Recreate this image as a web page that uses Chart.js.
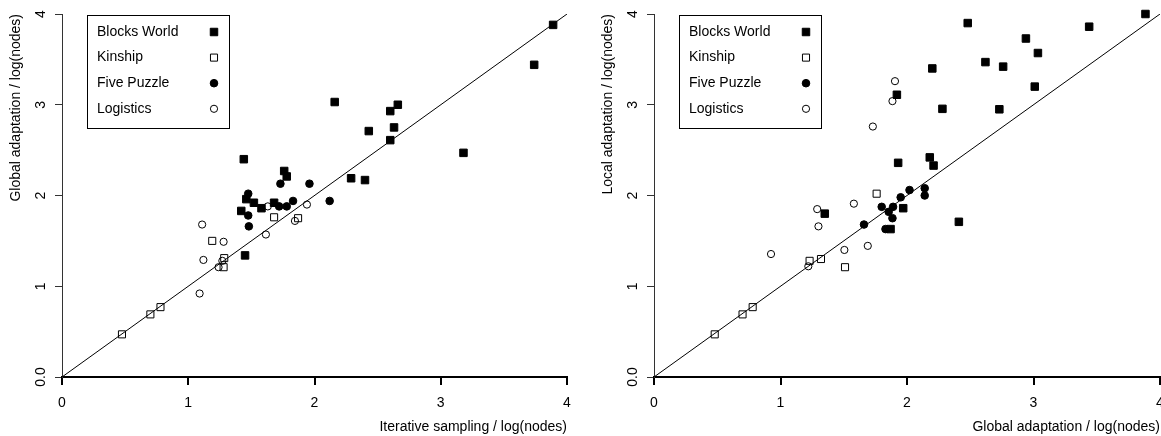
<!DOCTYPE html>
<html>
<head>
<meta charset="utf-8">
<script src="https://cdn.jsdelivr.net/npm/chart.js@4.4.0/dist/chart.umd.min.js"></script>
<style>
  body { margin: 0; background: #fff; }
  #wrap { position: relative; width: 1161px; height: 436px; }
  canvas { position: absolute; top: 0; }
</style>
</head>
<body>
<div id="wrap">
  <canvas id="left" width="590" height="436" style="left:0px"></canvas>
  <canvas id="right" width="569" height="436" style="left:592px"></canvas>
</div>
<script>
// ---- data: [x, y] pairs, log(nodes) ----
const seriesNames = ['Blocks World', 'Kinship', 'Five Puzzle', 'Logistics'];
const xTickLabels = ['0', '1', '2', '3', '4'];
const yTickLabels = ['0.0', '1', '2', '3', '4'];
const tickValues = [0, 1, 2, 3, 4];
const diagonal = [[0, 0], [4, 4]];

// left: iterative sampling (x) vs global adaptation (y)
const leftBlocks = [[3.89, 3.88], [3.74, 3.44], [2.16, 3.03], [2.66, 3.00], [2.60, 2.93], [2.43, 2.71],
  [2.63, 2.75], [2.60, 2.61], [3.18, 2.47], [2.29, 2.19], [2.40, 2.17], [1.76, 2.27], [1.78, 2.21],
  [1.44, 2.40], [1.46, 1.96], [1.52, 1.92], [1.42, 1.83], [1.58, 1.86], [1.68, 1.92], [1.45, 1.34]];
const leftKinship = [[0.475, 0.47], [0.70, 0.69], [0.78, 0.77], [1.19, 1.50], [1.285, 1.31],
  [1.28, 1.21], [1.68, 1.76], [1.87, 1.75]];
const leftFive = [[1.475, 2.02], [1.73, 2.13], [1.96, 2.13], [2.12, 1.94], [1.83, 1.94], [1.78, 1.88],
  [1.72, 1.88], [1.475, 1.78], [1.48, 1.66]];
const leftLogistics = [[1.11, 1.68], [1.12, 1.29], [1.09, 0.92], [1.24, 1.21], [1.27, 1.28], [1.28, 1.49],
  [1.615, 1.57], [1.845, 1.72], [1.63, 1.88], [1.94, 1.90]];

// right: global adaptation (x) vs local adaptation (y)
const rightBlocks = [[3.885, 4.00], [2.48, 3.90], [3.44, 3.86], [2.94, 3.73], [3.035, 3.57], [2.62, 3.47],
  [2.76, 3.42], [2.20, 3.40], [3.01, 3.20], [1.92, 3.11], [2.28, 2.955], [2.73, 2.95], [1.93, 2.36],
  [2.18, 2.42], [2.21, 2.33], [1.97, 1.86], [2.41, 1.71], [1.87, 1.63], [1.35, 1.80]];
const rightKinship = [[0.48, 0.47], [0.70, 0.69], [0.78, 0.77], [1.23, 1.28], [1.32, 1.30],
  [1.51, 1.21], [1.76, 2.02]];
const rightFive = [[1.66, 1.68], [1.80, 1.875], [1.855, 1.82], [1.885, 1.75], [1.89, 1.875], [1.95, 1.98],
  [2.02, 2.06], [2.14, 2.08], [2.14, 2.00], [1.83, 1.63]];
const rightLogistics = [[1.905, 3.26], [1.885, 3.04], [1.73, 2.76], [1.29, 1.85], [1.58, 1.91], [1.30, 1.66],
  [0.925, 1.355], [1.22, 1.22], [1.505, 1.40], [1.69, 1.445]];

const FONT = '"Liberation Sans", Arial, Helvetica, sans-serif';
const markers = [
  { style: 'rect', fill: '#000', r: 5.3 },
  { style: 'rect', fill: 'rgba(0,0,0,0)', r: 5.0 },
  { style: 'circle', fill: '#000', r: 3.8 },
  { style: 'circle', fill: 'rgba(0,0,0,0)', r: 3.6 }
];

function toXY(arr) {
  return arr.map(p => ({ x: p[0], y: p[1] }));
}

function drawMarker(ctx, m, x, y) {
  ctx.beginPath();
  if (m.style === 'rect') {
    const s = m.r * Math.SQRT1_2;
    ctx.rect(x - s, y - s, 2 * s, 2 * s);
  } else {
    ctx.arc(x, y, m.r, 0, Math.PI * 2);
  }
  ctx.fillStyle = m.fill;
  ctx.fill();
  ctx.strokeStyle = '#000';
  ctx.lineWidth = 1;
  ctx.stroke();
}

// rotated y tick labels (R style) and the legend box with symbols on the right
const extras = {
  id: 'extras',
  afterDraw(chart) {
    const ctx = chart.ctx, area = chart.chartArea, ys = chart.scales.y;
    ctx.save();
    ctx.font = '14px ' + FONT;
    ctx.fillStyle = '#000';
    ctx.textAlign = 'center';
    ctx.textBaseline = 'middle';
    yTickLabels.forEach((lab, i) => {
      ctx.save();
      ctx.translate(area.left - 21, ys.getPixelForValue(tickValues[i]));
      ctx.rotate(-Math.PI / 2);
      ctx.fillText(lab, 0, 0);
      ctx.restore();
    });

    const bx = area.left + 25, by = area.top + 1, bw = 142, bh = 113;
    ctx.fillStyle = '#fff';
    ctx.fillRect(bx, by, bw, bh);
    ctx.strokeStyle = '#000';
    ctx.lineWidth = 1;
    ctx.strokeRect(bx + 0.5, by + 0.5, bw, bh);
    ctx.textAlign = 'left';
    seriesNames.forEach((name, i) => {
      const ry = by + 17 + i * 25.6;
      ctx.fillStyle = '#000';
      ctx.fillText(name, bx + 10, ry);
      drawMarker(ctx, markers[i], bx + 127, ry);
    });
    ctx.restore();
  }
};

function makeChart(id, sets, xTitle, yTitle, padRight) {
  const datasets = sets.map((d, i) => ({
    label: seriesNames[i],
    data: toXY(d),
    clip: false,
    pointStyle: markers[i].style,
    pointRadius: markers[i].r,
    pointBackgroundColor: markers[i].fill,
    pointBorderColor: '#000',
    pointBorderWidth: 1
  }));
  datasets.push({
    label: 'y = x',
    data: toXY(diagonal),
    showLine: true,
    borderColor: '#000',
    borderWidth: 1,
    pointRadius: 0
  });

  return new Chart(document.getElementById(id), {
    type: 'scatter',
    data: { datasets: datasets },
    options: {
      responsive: false,
      animation: false,
      events: [],
      layout: { autoPadding: false, padding: { top: 14, right: padRight, left: 0, bottom: 0 } },
      plugins: { legend: { display: false }, tooltip: { enabled: false } },
      scales: {
        x: {
          type: 'linear', min: 0, max: 4,
          afterFit: s => { s.height = 59; s.paddingLeft = 0; s.paddingRight = 0; },
          afterBuildTicks: s => { s.ticks = tickValues.map(v => ({ value: v })); },
          grid: { drawOnChartArea: false, drawTicks: true, tickLength: 8, color: '#000', lineWidth: 2 },
          border: { display: true, color: '#000', width: 2 },
          ticks: {
            padding: 10, color: '#000', maxRotation: 0,
            font: { family: FONT, size: 14 },
            callback: (v, i) => xTickLabels[i]
          },
          title: {
            display: true, text: xTitle, align: 'end', color: '#000',
            font: { family: FONT, size: 14 }, padding: { top: 0, bottom: 0 }
          }
        },
        y: {
          type: 'linear', min: 0, max: 4,
          afterFit: s => { s.width = 62; s.paddingTop = 0; s.paddingBottom = 0; },
          afterBuildTicks: s => { s.ticks = tickValues.map(v => ({ value: v })); },
          grid: { drawOnChartArea: false, drawTicks: true, tickLength: 7, color: '#333', lineWidth: 1 },
          border: { display: true, color: '#333', width: 1 },
          ticks: { display: false },
          title: {
            display: true, text: yTitle, align: 'end', color: '#000',
            font: { family: FONT, size: 14 }, padding: { top: 8, bottom: 0 }
          }
        }
      }
    },
    plugins: [extras]
  });
}

makeChart('left', [leftBlocks, leftKinship, leftFive, leftLogistics],
  'Iterative sampling / log(nodes)', 'Global adaptation / log(nodes)', 23);
makeChart('right', [rightBlocks, rightKinship, rightFive, rightLogistics],
  'Global adaptation / log(nodes)', 'Local adaptation / log(nodes)', 1);
</script>
</body>
</html>
